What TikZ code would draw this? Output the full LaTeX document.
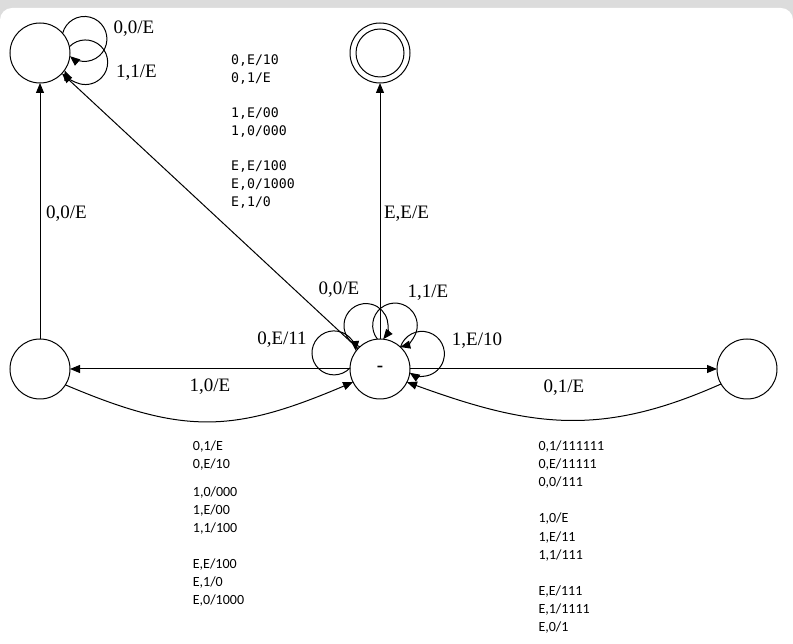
\documentclass[tikz,border=0pt]{standalone}
\usepackage{fontspec}
\setmainfont{Liberation Serif}
\newfontfamily\monofnt{DejaVu Sans Mono}
\newfontfamily\califnt{Carlito}
\usetikzlibrary{arrows.meta}
\definecolor{topgray}{RGB}{220,220,220}
\begin{document}
\begin{tikzpicture}[x=1pt,y=1pt,
  state/.style={circle,draw,line width=1pt,minimum size=60pt,inner sep=0pt,outer sep=0pt,fill=white},
  arr/.style={line width=1pt,-{Triangle[length=10pt,width=8pt]}},
  lbl/.style={font=\fontsize{19}{22}\selectfont,inner sep=0pt,anchor=base},
  monoblk/.style={font=\monofnt\fontsize{13.2}{18}\selectfont,align=left,inner sep=0pt,anchor=north west},
  calblk/.style={font=\califnt\fontsize{14}{18.2}\selectfont,align=left,inner sep=0pt,anchor=north west}]
\useasboundingbox (0,0) rectangle (793,643);
\clip (0,0) rectangle (793,643);
\fill[topgray] (0,0) rectangle (793,643);
\fill[white, rounded corners=12pt] (0,-20) rectangle (793,635);

% states
\node[state] (A) at (40,590) {};
\node[state] (F) at (380,590) {};
\node[circle,draw,line width=1pt,minimum size=48pt,inner sep=0pt] (Fin) at (F) {};
\node[state,font=\bfseries\fontsize{19}{22}\selectfont] (C) at (380,274) {-};
\node[state] (L) at (40,274) {};
\node[state] (R) at (747,274) {};

% straight transitions
\draw[arr] (L) -- (A);
\draw[arr] (C) -- (A);
\draw[arr] (C) -- (F);
\draw[arr] (C) -- (L);
\draw[arr] (C) -- (R);

% curved transitions
\draw[arr] (L.-32) to[out=-23,in=203,looseness=1.15] (C.206);
\draw[arr] (R.210) to[out=204,in=-20,looseness=1.07] (C.-26);

% self loops on A
\draw[arr] (A.41) arc[start angle=165.5,end angle=-130,radius=22.5];
\draw[arr] (A.12) arc[start angle=136,end angle=-159,radius=22.3];

% self loops on C
\draw[arr] (C.178) arc[start angle=-43.2,end angle=-355.1,radius=22];
\draw[arr] (C.132) arc[start angle=-105.9,end angle=-398.5,radius=22];
\draw[arr] (C.95) arc[start angle=-142,end angle=-436.1,radius=22.3];
\draw[arr] (C.47) arc[start angle=162.4,end angle=-122.9,radius=22.5];

% labels
\node[lbl] (la1) at (134,609.6) {0,0/E};
\node[lbl] (la2) at (136.5,565.6) {1,1/E};
\node[lbl] (lla) at (66.5,424.6) {0,0/E};
\node[lbl] (lcf) at (406.5,424.6) {E,E/E};
\node[lbl] (lcb) at (339,348.6) {0,0/E};
\node[lbl] (lcc) at (428,345.6) {1,1/E};
\node[lbl] (lca) at (282,298.6) {0,E/11};
\node[lbl] (lcd) at (477,297.6) {1,E/10};
\node[lbl] (lcl) at (210,251.6) {1,0/E};
\node[lbl] (lcr) at (564,250.6) {0,1/E};

% text blocks
\node[monoblk] (tblk) at (231,588.8) {0,E/10\\0,1/E\\[17pt]1,E/00\\1,0/000\\[17pt]E,E/100\\E,0/1000\\E,1/0};
\node[calblk] (lblk) at (192.7,202.7) {0,1/E\\0,E/10\\[9.7pt]1,0/000\\1,E/00\\1,1/100\\[17.3pt]E,E/100\\E,1/0\\E,0/1000};
\node[calblk] (rblk) at (538.3,202.7) {0,1/111111\\0,E/11111\\0,0/111\\[18pt]1,0/E\\1,E/11\\1,1/111\\[17.6pt]E,E/111\\E,1/1111\\E,0/1};
\end{tikzpicture}
\end{document}
